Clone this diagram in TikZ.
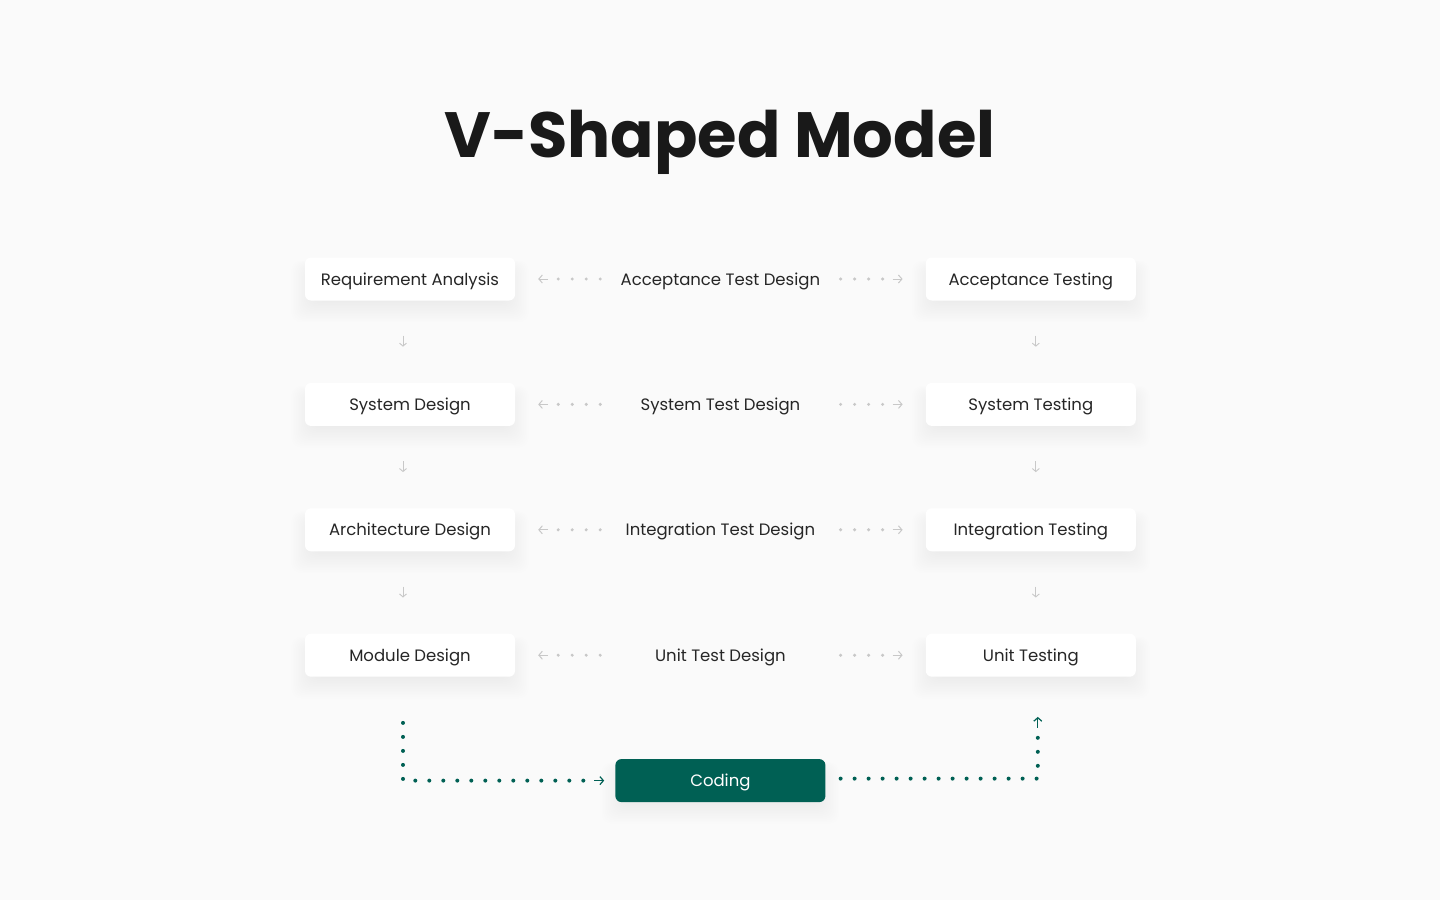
\documentclass[tikz,border=0pt]{standalone}
\usepackage{fontspec}
\setmainfont{Poppins}
\usetikzlibrary{positioning, arrows.meta, backgrounds}
\definecolor{pagebg}{HTML}{FAFAFA}
\definecolor{inkdark}{HTML}{262626}
\definecolor{codegreen}{HTML}{006054}
\definecolor{dotgray}{HTML}{C8C8C8}
\tikzset{
        node distance=82pt and 90pt, % gaps between rows and columns
        phase box/.style={
		fill=white,
		rounded corners=6pt,
		minimum width=210pt,
		minimum height=43pt,
		inner sep=0pt,
		text height=12pt, text depth=0pt,
		text=inkdark,
		font=\fontsize{16.5}{20}\selectfont,
	  },
        test label/.style={
		minimum width=230pt,
		minimum height=43pt,
		inner sep=0pt,
		text height=12pt, text depth=0pt,
		text=inkdark,
		font=\fontsize{16.5}{20}\selectfont,
	  },
        code box/.style={
		phase box,
		fill=codegreen,
		text=white,
	  },
        gray dots/.style={
		dotgray, line width=3.4pt, line cap=round,
		dash pattern=on 0pt off 14pt,
		shorten <=5pt, shorten >=40pt,
	  },
        gray tip/.style={
		dotgray, line width=1pt,
		-{Straight Barb[length=3.5pt, width=8pt]},
		shorten <=57pt, shorten >=23pt,
	  },
        step arrow/.style={
		dotgray, line width=0.9pt,
		-{Straight Barb[length=3pt, width=7pt]},
		shorten <=35pt, shorten >=36pt,
	  },
        green dots/.style={
		codegreen, line width=4pt, line cap=round,
		dash pattern=on 0pt off 14pt,
	  },
        green tip/.style={
		codegreen, line width=1.2pt,
		-{Straight Barb[length=3.5pt, width=8pt]},
	  },
    }
\begin{document}
\begin{tikzpicture}[x=1pt, y=1pt]
    \useasboundingbox (0,0) rectangle (1440,-900);
    \node [font=\fontsize{64}{72}\selectfont\bfseries, text=black!90] (title) at (720,-142) {V-Shaped Model};
    % left column
    \node [phase box] (ra) at (410,-279) {Requirement Analysis};
    \node [phase box, below=of ra] (sd) {System Design};
    \node [phase box, below=of sd] (ad) {Architecture Design};
    \node [phase box, below=of ad] (md) {Module Design};
    % middle column
    \node [test label, right=of ra] (atd) {Acceptance Test Design};
    \node [test label, right=of sd] (std) {System Test Design};
    \node [test label, right=of ad] (itd) {Integration Test Design};
    \node [test label, right=of md] (utd) {Unit Test Design};
    % right column
    \node [phase box, right=of atd] (at) {Acceptance Testing};
    \node [phase box, right=of std] (st) {System Testing};
    \node [phase box, right=of itd] (it) {Integration Testing};
    \node [phase box, right=of utd] (ut) {Unit Testing};
    % bottom
    \node [code box, below=of utd] (cod) {Coding};
    % page and soft shadows
    \begin{scope}[on background layer]
      \fill[pagebg] (0,0) rectangle (1440,-900);
      \foreach \n in {ra,sd,ad,md,at,st,it,ut,cod}
        \foreach \k in {1,...,16}
          \fill[black, opacity=0.005, rounded corners=10pt]
            ([shift={(12-1.6*\k,-10-0.5*(12-1.6*\k))}]\n.north west) rectangle ([shift={(-12+1.6*\k,4-1.6*\k)}]\n.south east);
    \end{scope}
    % links between design and testing
    \foreach \l/\m/\r in {ra/atd/at, sd/std/st, ad/itd/it, md/utd/ut}{
      \draw [gray dots] (\m) -- (\l);
      \draw [gray tip] (\m) -- (\l);
      \draw [gray dots] (\m) -- (\r);
      \draw [gray tip] (\m) -- (\r);
    }
    % steps down each side
    \foreach \a/\b in {ra/sd, sd/ad, ad/md}
      \draw [step arrow] ([xshift=-7pt]\a.south) -- ([xshift=-7pt]\b.north);
    \foreach \a/\b in {at/st, st/it, it/ut}
      \draw [step arrow] ([xshift=5pt]\a.south) -- ([xshift=5pt]\b.north);
    % into and out of coding
    \draw [green dots, shorten <=46pt, shorten >=24pt] ([xshift=-7pt]md.south) |- (cod);
    \draw [green tip, shorten >=11pt] ([xshift=-21pt]cod.west) -- (cod.west);
    \draw [green dots, shorten <=15pt, shorten >=52pt] ([yshift=2pt]cod.east) -| ([xshift=7pt]ut.south);
    \draw [green tip, shorten >=40pt] ([xshift=7pt, yshift=-51pt]ut.south) -- ([xshift=7pt]ut.south);
  \end{tikzpicture}
\end{document}
